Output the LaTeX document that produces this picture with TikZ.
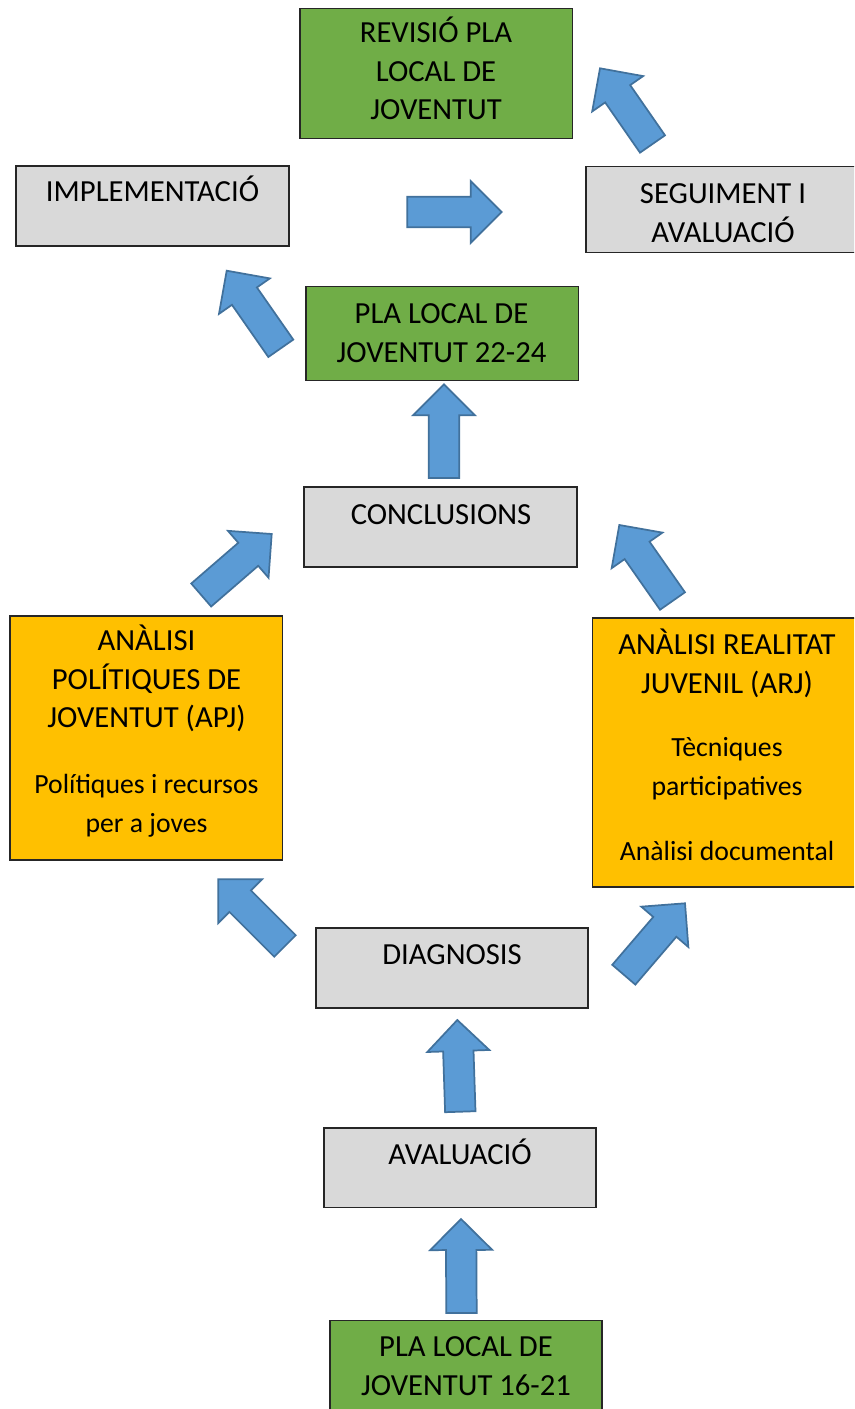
\documentclass[tikz,border=0pt]{standalone}
\usepackage{fontspec}
\setmainfont{Carlito}
\usetikzlibrary{calc,fit}
\definecolor{grn}{HTML}{70AD47}
\definecolor{gry}{HTML}{D9D9D9}
\definecolor{org}{HTML}{FFC000}
\definecolor{blu}{HTML}{5B9BD5}
\definecolor{bluline}{HTML}{41719C}
\def\arL{23.25pt}
\def\arH{23.25pt}
\def\arS{11.4pt}
\newcommand\lcsize{\fontsize{20.8pt}{28.9pt}\selectfont}
\newcommand\barrow[2]{%
  \coordinate (hb) at ($(#2)!\arL!(#1)$);
  \draw[barr] (#2) -- ($(hb)!\arH!90:(#2)$) -- ($(hb)!\arS!90:(#2)$)
    -- ($(#1)!\arS!90:(#2)$) -- ($(#1)!\arS!-90:(#2)$)
    -- ($(hb)!\arS!-90:(#2)$) -- ($(hb)!\arH!-90:(#2)$) -- cycle;}
\tikzset{
  box/.style={draw=black!85, line width=0.9pt, inner sep=0pt, rectangle},
  txt/.style={anchor=base, align=center, inner sep=0pt,
    font=\fontsize{23pt}{28.9pt}\selectfont},
  barr/.style={fill=blu, draw=bluline, line width=1.3pt, line join=miter},
}
\begin{document}
\begin{tikzpicture}[x=0.75pt,y=-0.75pt]
\useasboundingbox (0,0) rectangle (854,1409);
\clip (0,0) rectangle (854,1409);
\fill[white] (0,0) rectangle (854,1409);
% boxes (text nodes anchored at the baseline of their last line)
\node[box, fill=grn, fit={(300,8.5) (572.5,138.5)}] (rev) {};
\node[txt] (revT) at (436,120) {REVISIÓ PLA\\LOCAL DE\\JOVENTUT};
\node[box, fill=gry, fit={(16,166) (289,246)}] (imp) {};
\node[txt] (impT) at (152.5,201) {IMPLEMENTACIÓ};
\node[box, fill=gry, fit={(586,166.5) (862,252.5)}] (seg) {};
\node[txt] (segT) at (723,242) {SEGUIMENT I\\AVALUACIÓ};
\node[box, fill=grn, fit={(306,286.5) (578.5,380.5)}] (p22) {};
\node[txt] (p22T) at (441.5,362) {PLA LOCAL DE\\JOVENTUT 22-24};
\node[box, fill=gry, fit={(304,487) (577,567)}] (con) {};
\node[txt] (conT) at (441,524) {CONCLUSIONS};
\node[box, fill=org, fit={(10,616) (282.5,860)}] (apj) {};
\node[txt] (apjT) at (146.5,832.5) {ANÀLISI\\POLÍTIQUES DE\\JOVENTUT (APJ)\\[20.6pt]{\lcsize Polítiques i recursos}\\{\lcsize per a joves}};
\node[box, fill=org, fit={(592.5,618) (862,887)}] (arj) {};
\node[txt] (arjT) at (727,860) {ANÀLISI REALITAT\\JUVENIL (ARJ)\\[18.9pt]{\lcsize Tècniques}\\{\lcsize participatives}\\[19.5pt]{\lcsize Anàlisi documental}};
\node[box, fill=gry, fit={(316,928) (588,1008)}] (dia) {};
\node[txt] (diaT) at (452,964.3) {DIAGNOSIS};
\node[box, fill=gry, fit={(324,1128) (596,1207.5)}] (ava) {};
\node[txt] (avaT) at (460,1164) {AVALUACIÓ};
\node[box, fill=grn, fit={(330,1320.5) (602,1418)}] (p16) {};
\node[txt] (p16T) at (466,1395) {PLA LOCAL DE\\JOVENTUT 16-21};
% arrows: tail and tip coordinates
\coordinate (a1t) at (461.5,1313); \coordinate (a1p) at (461,1219);
\coordinate (a2t) at (460.3,1111.7); \coordinate (a2p) at (457.3,1020);
\coordinate (a3t) at (444,478); \coordinate (a3p) at (444,384.3);
\coordinate (a4t) at (407.3,212); \coordinate (a4p) at (501.7,212);
\coordinate (a5t) at (652.5,144); \coordinate (a5p) at (600,68.3);
\coordinate (a6t) at (280.8,348.3); \coordinate (a6p) at (226.7,270.7);
\coordinate (a7t) at (201.2,595); \coordinate (a7p) at (271.7,534);
\coordinate (a8t) at (672.5,601); \coordinate (a8p) at (619.3,525);
\coordinate (a9t) at (285,946); \coordinate (a9p) at (218.3,879.3);
\coordinate (a10t) at (623.8,974.7); \coordinate (a10p) at (685,903.3);
\barrow{a1t}{a1p}
\barrow{a2t}{a2p}
\barrow{a3t}{a3p}
\barrow{a4t}{a4p}
\barrow{a5t}{a5p}
\barrow{a6t}{a6p}
\barrow{a7t}{a7p}
\barrow{a8t}{a8p}
\barrow{a9t}{a9p}
\barrow{a10t}{a10p}
\end{tikzpicture}
\end{document}
